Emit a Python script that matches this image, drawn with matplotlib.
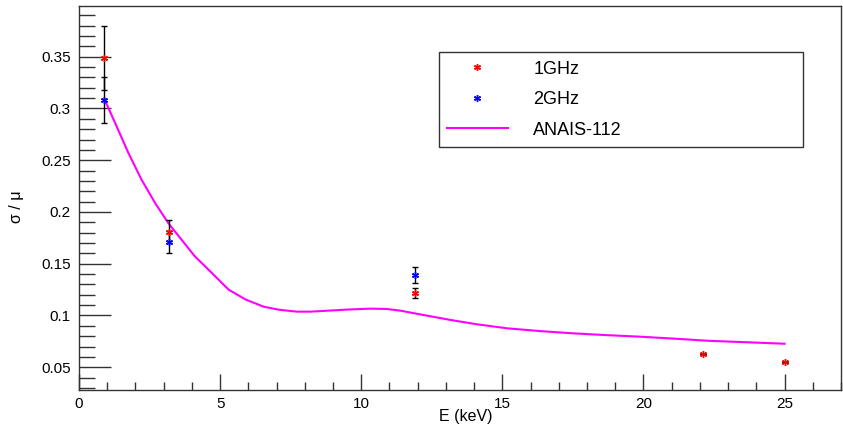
import matplotlib
matplotlib.use("Agg")
import matplotlib.pyplot as plt
from matplotlib.ticker import MultipleLocator, FuncFormatter
from matplotlib.lines import Line2D

# ---- data ----
e_1ghz = [0.9, 3.2, 11.9, 22.1, 25.0]
r_1ghz = [0.349, 0.181, 0.1215, 0.0625, 0.055]
err_1ghz = [0.031, 0.011, 0.005, 0.0, 0.0]

e_2ghz = [0.9, 3.2, 11.9]
r_2ghz = [0.308, 0.171, 0.139]
err_2ghz = [0.022, 0.011, 0.008]

e_anais = [0.9, 1.28, 1.75, 2.22, 2.70, 3.17, 3.64, 4.11, 4.71, 5.30, 5.9,
           6.54, 7.1, 7.72, 8.2, 8.66, 9.5, 10.32, 10.9, 11.38, 12.2, 13.16,
           14.1, 15.17, 16.3, 17.53, 18.7, 19.89, 21.1, 22.26, 23.6, 25.0]
r_anais = [0.309, 0.286, 0.257, 0.231, 0.2085, 0.189, 0.173, 0.157, 0.141,
           0.125, 0.1155, 0.1085, 0.1055, 0.1037, 0.1037, 0.1044, 0.1057,
           0.1066, 0.1063, 0.1047, 0.1005, 0.0957, 0.0915, 0.0876, 0.085,
           0.0827, 0.081, 0.0795, 0.0776, 0.0756, 0.0742, 0.0727]

xlim = (0, 27)
ylim = (0.028, 0.399)

plt.rcParams['font.family'] = ['Liberation Sans', 'DejaVu Sans']

fig = plt.figure(figsize=(8.43, 4.28), dpi=100)
ax = fig.add_axes([79/843, 38/428, 762/843, 384/428])

ax.plot(e_anais, r_anais, color=(1, 0, 1), lw=1.5, zorder=2)
ax.errorbar(e_1ghz, r_1ghz, yerr=err_1ghz, fmt='none', ecolor='black',
            elinewidth=1, capsize=2.5, capthick=1, zorder=3)
ax.errorbar(e_2ghz, r_2ghz, yerr=err_2ghz, fmt='none', ecolor='black',
            elinewidth=1, capsize=2.5, capthick=1, zorder=3)
ax.plot(e_1ghz, r_1ghz, ls='none', marker=(6, 2, 0), ms=5, mew=1,
        color='red', zorder=4)
ax.plot(e_2ghz, r_2ghz, ls='none', marker=(6, 2, 0), ms=5, mew=1,
        color='blue', zorder=4)

ax.set_xlim(*xlim)
ax.set_ylim(*ylim)
ax.xaxis.set_major_locator(MultipleLocator(5))
ax.xaxis.set_minor_locator(MultipleLocator(1))
ax.yaxis.set_major_locator(MultipleLocator(0.05))
ax.yaxis.set_minor_locator(MultipleLocator(0.01))
ax.yaxis.set_major_formatter(FuncFormatter(lambda v, p: ('%g' % round(v, 3))))
ax.xaxis.set_major_formatter(FuncFormatter(lambda v, p: '%d' % v))

ax.tick_params(axis='both', which='both', direction='in', top=False,
               right=False, labelsize=11, colors='#333333', labelcolor='black')
ax.tick_params(axis='y', which='major', length=23, width=1, pad=6)
ax.tick_params(axis='y', which='minor', length=11.5, width=1)
ax.tick_params(axis='x', which='major', length=11.5, width=1, pad=5)
ax.tick_params(axis='x', which='minor', length=6, width=1)
for s in ax.spines.values():
    s.set_linewidth(1)
    s.set_color('#333333')

ax.set_xlabel('E (keV)', fontsize=11.5, va='center')
ax.xaxis.set_label_coords((466 - 79) / 762, -(416 - 390) / 384)
ax.set_ylabel('σ / μ', fontsize=11.5, va='center')
ax.yaxis.set_label_coords(-(79 - 17) / 762, (390 - 207) / 384)

handles = [
    Line2D([], [], ls='none', marker=(6, 2, 0), ms=5, mew=1, color='red'),
    Line2D([], [], ls='none', marker=(6, 2, 0), ms=5, mew=1, color='blue'),
    Line2D([], [], color=(1, 0, 1), lw=1.5),
]
leg = ax.legend(handles, ['1GHz', '2GHz', 'ANAIS-112'],
                bbox_to_anchor=(0.472, 0.634, 0.478, 0.245), loc='upper left',
                mode='expand', fontsize=13, fancybox=False, framealpha=1,
                edgecolor='#333333', borderaxespad=0, handlelength=3.4,
                handletextpad=1.4, labelspacing=0.75, borderpad=0.45)
leg.get_frame().set_linewidth(1)

fig.savefig('out.png', dpi=100)
